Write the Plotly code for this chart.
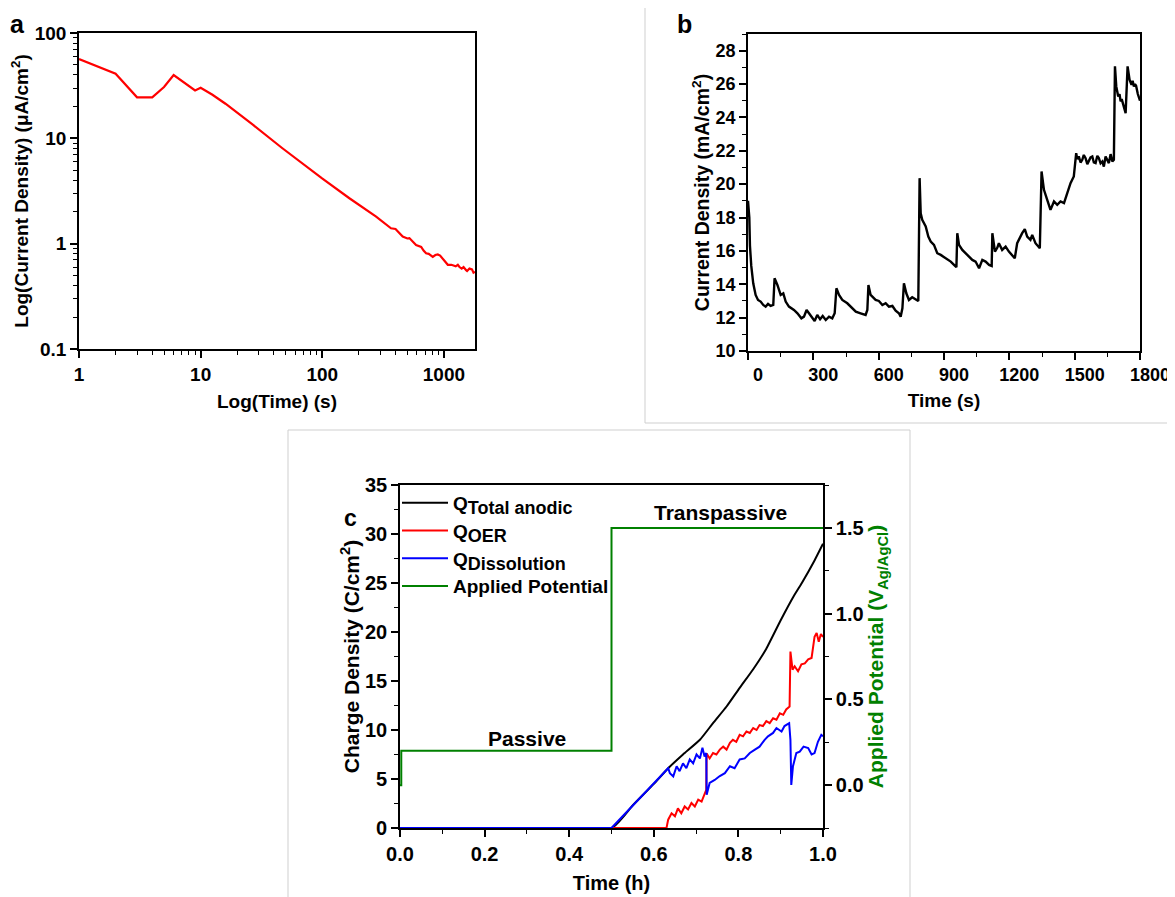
import plotly.graph_objects as go

# page offset of the browser body (8px) is compensated so that reference pixel coords map 1:1
OFF = 8
W, H = 1175 - OFF, 897 - OFF

# ---------------- Panel a data (log-log) ----------------
a_time = [1, 2, 3, 4, 5, 6, 9, 10, 12.5, 16, 27, 47, 99, 167, 277, 367, 400, 420, 458, 500, 520,
          590, 650, 680, 713, 750, 809, 850, 890, 930, 978, 1000, 1076, 1150, 1250, 1300, 1342,
          1400, 1450, 1522, 1550, 1622, 1700, 1750, 1800]
a_current = [56.6, 41, 24.5, 24.5, 30.7, 39.9, 28.5, 30.2, 25.9, 21.3, 13.4, 8.05, 4.18, 2.70, 1.81,
             1.40, 1.38, 1.30, 1.17, 1.12, 1.13, 0.97, 0.93, 0.86, 0.81, 0.80, 0.75, 0.78, 0.79,
             0.77, 0.72, 0.70, 0.63, 0.63, 0.61, 0.63, 0.60, 0.58, 0.60, 0.56, 0.55, 0.58, 0.57,
             0.53, 0.54]

# ---------------- Panel b data ----------------
b_time = [0, 6, 9, 15, 24, 35, 46, 58, 70, 81, 92, 104, 116, 122, 135, 150, 162, 173, 188, 211,
          227, 245, 257, 269, 280, 295, 306, 318, 331, 343, 357, 372, 387, 398, 406, 418, 433,
          456, 472, 495, 517, 540, 548, 553, 563, 586, 601, 617, 632, 647, 663, 678, 693, 701,
          709, 716, 727, 739, 754, 770, 782, 788, 793, 800, 816, 828, 839, 854, 869, 885, 900,
          915, 931, 946, 957, 961, 969, 984, 999, 1015, 1030, 1045, 1061, 1076, 1091, 1107,
          1119, 1122, 1134, 1145, 1152, 1167, 1183, 1198, 1213, 1225, 1236, 1247, 1259, 1271,
          1282, 1297, 1305, 1320, 1333, 1340, 1348, 1359, 1374, 1389, 1405, 1420, 1435, 1451,
          1466, 1481, 1496, 1507, 1512, 1519, 1527, 1535, 1542, 1550, 1558, 1565, 1573, 1581,
          1588, 1596, 1604, 1611, 1619, 1627, 1634, 1642, 1650, 1657, 1665, 1673, 1680, 1685,
          1691, 1700, 1706, 1711, 1716, 1722, 1728, 1734, 1743, 1752, 1761, 1766, 1772, 1777,
          1782, 1790, 1800]
b_current = [19.0, 18.0, 16.3, 15.1, 14.06, 13.36, 13.06, 12.96, 12.76, 12.66, 12.82, 12.7, 12.76,
             14.36, 13.96, 13.36, 13.46, 12.96, 12.66, 12.46, 12.26, 11.96, 12.06, 12.46, 12.26,
             11.96, 11.8, 12.16, 11.9, 12.1, 11.86, 12.06, 11.96, 12.26, 13.76, 13.36, 13.06,
             12.86, 12.66, 12.36, 12.26, 12.16, 12.46, 13.96, 13.36, 13.06, 13.0, 12.76, 12.86,
             12.66, 12.7, 12.42, 12.26, 12.06, 12.56, 14.06, 13.46, 13.06, 13.22, 13.1, 13.0,
             20.36, 18.26, 17.86, 17.46, 16.86, 16.56, 16.36, 15.86, 15.76, 15.62, 15.46, 15.36,
             15.16, 15.02, 17.06, 16.36, 16.06, 15.86, 15.66, 15.46, 15.36, 14.96, 15.46, 15.36,
             15.16, 15.1, 17.06, 15.96, 16.2, 16.46, 16.06, 16.26, 15.96, 15.76, 15.56, 16.46,
             16.76, 17.06, 17.3, 16.86, 16.66, 16.96, 16.46, 16.26, 16.16, 20.76, 19.66, 19.06,
             18.46, 18.96, 18.76, 18.96, 18.86, 19.46, 20.06, 20.46, 21.86, 21.5, 21.66, 21.3,
             21.46, 21.75, 21.56, 21.2, 21.36, 21.6, 21.66, 21.3, 21.26, 21.7, 21.56, 21.25,
             21.36, 21.05, 21.66, 21.4, 21.26, 21.8, 21.36, 21.46, 27.06, 25.86, 25.26, 25.4,
             24.96, 25.1, 24.86, 24.6, 24.26, 27.06, 26.26, 25.96, 26.2, 25.86, 26.0, 25.9, 25.4,
             25.0]

# ---------------- Panel c data ----------------
c_total_time = [0, 0.5, 0.55, 0.6, 0.634, 0.669, 0.709, 0.74, 0.772, 0.803, 0.835, 0.866, 0.90,
                0.93, 0.95, 0.98, 1.0]
c_total_q = [0, 0, 2.3, 4.5, 6.1, 7.5, 9.0, 10.7, 12.4, 14.3, 16.2, 18.3, 21.2, 23.6, 25.0, 27.3, 29.0]

c_oer_time = [0, 0.63, 0.634, 0.642, 0.650, 0.657, 0.665, 0.673, 0.681, 0.689, 0.697, 0.705, 0.713,
              0.720, 0.724, 0.725, 0.732, 0.740, 0.748, 0.756, 0.764, 0.772, 0.780, 0.787, 0.795,
              0.803, 0.811, 0.819, 0.827, 0.835, 0.843, 0.850, 0.858, 0.866, 0.874, 0.882, 0.890,
              0.898, 0.906, 0.913, 0.921, 0.923, 0.928, 0.933, 0.941, 0.949, 0.957, 0.965, 0.973,
              0.980, 0.985, 0.990, 0.995, 1.0]
c_oer_q = [0, 0, 0.85, 1.5, 1.2, 2.0, 1.5, 2.2, 1.9, 2.55, 2.2, 2.9, 2.7, 3.4, 3.9, 7.6, 7.1, 7.65,
           7.5, 8.0, 8.3, 8.0, 8.7, 9.0, 8.8, 9.5, 9.35, 9.85, 9.7, 10.2, 10.0, 10.5, 10.4, 10.9,
           10.7, 11.2, 11.05, 11.7, 11.55, 12.1, 12.4, 18.0, 16.15, 16.5, 16.0, 16.7, 16.8, 17.2,
           17.35, 19.5, 19.9, 19.0, 19.8, 19.5]

c_diss_time = [0, 0.5, 0.634, 0.638, 0.646, 0.654, 0.661, 0.669, 0.677, 0.685, 0.693, 0.701, 0.709,
               0.715, 0.720, 0.724, 0.725, 0.732, 0.744, 0.756, 0.768, 0.780, 0.791, 0.803, 0.815,
               0.827, 0.839, 0.850, 0.862, 0.870, 0.882, 0.890, 0.902, 0.909, 0.920, 0.923, 0.925,
               0.929, 0.937, 0.945, 0.954, 0.965, 0.973, 0.980, 0.988, 0.996, 1.0]
c_diss_q = [0, 0, 6.1, 5.6, 5.27, 6.3, 5.8, 6.6, 6.1, 7.0, 6.6, 7.5, 7.1, 8.2, 7.3, 7.65, 3.4, 4.6,
            4.9, 5.3, 5.6, 6.3, 6.1, 7.0, 7.1, 7.65, 8.0, 8.3, 9.0, 9.35, 9.7, 10.2, 9.85, 10.4,
            10.7, 9.0, 4.4, 6.3, 7.65, 7.8, 8.3, 8.15, 7.5, 7.65, 8.8, 9.5, 9.35]

c_pot_time = [0, 0.003, 0.5, 1.0]
c_pot_v = [0.0, 0.2, 1.5, 1.5]

FONT = "Liberation Sans, Arial, sans-serif"


def px(p):
    return (p - OFF) / W


def py(p):
    return 1 - (p - OFF) / H


def dx(p0, p1):
    return [px(p0), px(p1)]


def dy(p0, p1):
    return [py(p1), py(p0)]


def minor(**kw):
    d = dict(ticks="outside", ticklen=4, tickwidth=1.3, tickcolor="black", showgrid=False)
    d.update(kw)
    return d


def axis(tsize=18, ttsize=19, **kw):
    d = dict(showline=True, linecolor="black", linewidth=1.6, mirror=True, ticks="outside",
             ticklen=7, tickwidth=1.5, tickcolor="black", showgrid=False, zeroline=False,
             automargin=False,
             tickfont=dict(family=FONT, size=tsize, color="black", weight="bold"),
             title_font=dict(family=FONT, size=ttsize, color="black", weight="bold"))
    d.update(kw)
    return d


def sub(main, s, size=18):
    return f'{main}<sub><span style="font-size:{size}px">{s}</span></sub>'


fig = go.Figure()

fig.add_trace(go.Scatter(x=a_time, y=a_current, mode="lines", line=dict(color="#ff0000", width=2.2),
                         xaxis="x", yaxis="y", showlegend=False))
fig.add_trace(go.Scatter(x=b_time, y=b_current, mode="lines", line=dict(color="black", width=2.4),
                         xaxis="x2", yaxis="y2", showlegend=False))

fig.add_trace(go.Scatter(x=c_total_time, y=c_total_q, mode="lines", name=sub("Q", "Total anodic"),
                         line=dict(color="black", width=2, shape="spline", smoothing=0.5),
                         xaxis="x3", yaxis="y3", legendrank=1, legendgroup="g1"))
fig.add_trace(go.Scatter(x=c_oer_time, y=c_oer_q, mode="lines", name=sub("Q", "OER"),
                         line=dict(color="#ff0000", width=2), xaxis="x3", yaxis="y3",
                         legendrank=2, legendgroup="g2"))
fig.add_trace(go.Scatter(x=c_diss_time, y=c_diss_q, mode="lines", name=sub("Q", "Dissolution"),
                         line=dict(color="#0000ff", width=2), xaxis="x3", yaxis="y3",
                         legendrank=3, legendgroup="g3"))
fig.add_trace(go.Scatter(x=c_pot_time, y=c_pot_v, mode="lines", name="Applied Potential",
                         line=dict(color="#008000", width=2, shape="hv"), xaxis="x3", yaxis="y4",
                         legendrank=4, legendgroup="g4"))

fig.update_layout(
    width=W, height=H, margin=dict(l=0, r=0, t=0, b=0, autoexpand=False),
    paper_bgcolor="white", plot_bgcolor="white",
    font=dict(family=FONT, color="black"),
    xaxis=axis(domain=dx(79, 475), anchor="y", type="log", range=[0, 3.2553],
               tickvals=[1, 10, 100, 1000], ticktext=["1", "10", "100", "1000"],
               minor=minor(dtick="D1"), tsize=19,
               title=dict(text="Log(Time) (s)", standoff=11)),
    yaxis=axis(domain=dy(33, 349), anchor="x", type="log", range=[-1, 2],
               tickvals=[0.1, 1, 10, 100], ticktext=["0.1", "1", "10", "100"],
               minor=minor(dtick="D1"), tsize=19,
               title=dict(text="Log(Current Density) (\u03bcA/cm<sup>2</sup>)", standoff=1)),
    xaxis2=axis(domain=dx(748, 1140), anchor="y2", range=[0, 1800], tickvals=[0, 300, 600, 900, 1200, 1500, 1800],
                ticklabelshift=10, minor=minor(dtick=150),
                title=dict(text="Time (s)", standoff=9)),
    yaxis2=axis(domain=dy(34, 351), anchor="x2", range=[10, 29], dtick=2, tick0=10,
                minor=minor(dtick=1), ttsize=19.5,
                title=dict(text="Current Density (mA/cm<sup>2</sup>)", standoff=1)),
    xaxis3=axis(domain=dx(400, 823), anchor="y3", range=[0, 1], dtick=0.2, tickformat=".1f",
                minor=minor(dtick=0.1), tsize=20, ttsize=20,
                title=dict(text="Time (h)", standoff=12)),
    yaxis3=axis(domain=dy(485, 828), anchor="x3", range=[0, 35], dtick=5,
                minor=minor(dtick=2.5), tsize=20, ttsize=21,
                title=dict(text="Charge Density (C/cm<sup>2</sup>)", standoff=0)),
    yaxis4=axis(domain=dy(485, 828), anchor="x3", overlaying="y3", side="right", range=[-0.25, 1.75],
                tickvals=[0, 0.5, 1.0, 1.5], ticktext=["0.0", "0.5", "1.0", "1.5"], mirror=False,
                minor=minor(tickvals=[-0.25, 0.25, 0.75, 1.25, 1.75]), tsize=20,
                title=dict(text="Applied Potential (V<sub>Ag/AgCl</sub>)", standoff=6,
                           font=dict(family=FONT, size=21, color="#008000", weight="bold"))),
    legend=dict(x=px(397), y=py(484), xanchor="left", yanchor="top", bgcolor="rgba(0,0,0,0)",
                font=dict(family=FONT, size=19, color="black", weight="bold"), tracegroupgap=0,
                itemwidth=46),
    showlegend=True,
)

annots = [
    dict(text="a", x=17, y=24, size=25),
    dict(text="b", x=684, y=24, size=25),
    dict(text="c", x=350, y=518, size=23),
    dict(text="Passive", x=527, y=738, size=21),
    dict(text="Transpassive", x=720, y=512, size=21),
]
for an in annots:
    fig.add_annotation(text=an["text"], x=px(an["x"]), y=py(an["y"]), xref="paper", yref="paper",
                       showarrow=False, xanchor="center", yanchor="middle",
                       font=dict(family=FONT, size=an["size"], color="black", weight="bold"))

gray = dict(color="#cfcfcf", width=1)
shapes = [
    dict(x0=645, y0=0, x1=645, y1=423),
    dict(x0=645, y0=423, x1=1175, y1=423),
    dict(x0=288, y0=430, x1=910, y1=430),
    dict(x0=288, y0=430, x1=288, y1=897),
    dict(x0=910, y0=430, x1=910, y1=897),
]
for s in shapes:
    fig.add_shape(type="line", xref="paper", yref="paper", x0=px(s["x0"]), x1=px(s["x1"]),
                  y0=py(s["y0"]), y1=py(s["y1"]), line=gray, layer="below")

fig.write_html("out.html")
